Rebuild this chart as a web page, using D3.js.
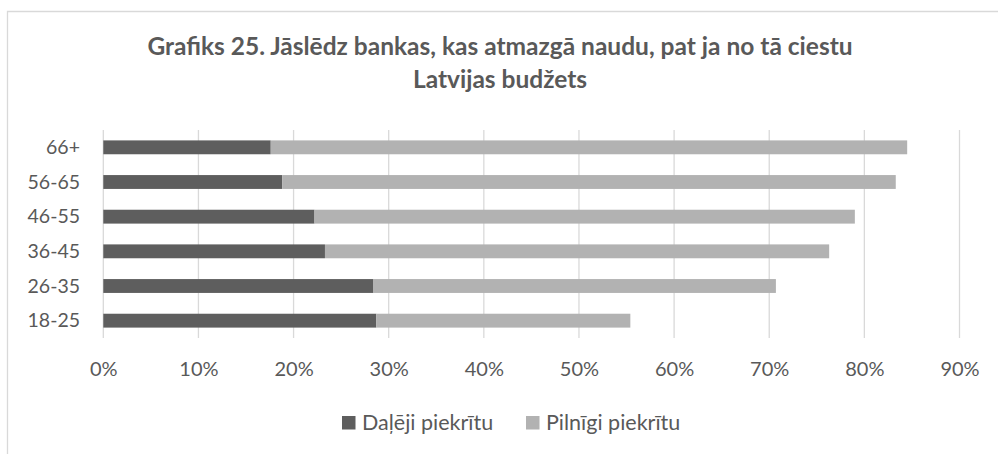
<!DOCTYPE html>
<html>
<head>
<meta charset="utf-8">
<script src="https://cdn.jsdelivr.net/npm/d3@7"></script>
<style>
  body { margin: 0; background: #fff; }
  text { font-family: Lato, "Open Sans", sans-serif; fill: #595959; }
</style>
</head>
<body>
<div id="chartContainer"></div>
<script>
var categories = ["66+", "56-65", "46-55", "36-45", "26-35", "18-25"];
var daleji = [17.6, 18.8, 22.2, 23.3, 28.4, 28.7];
var pilnigi = [66.9, 64.5, 56.8, 53.0, 42.3, 26.7];
var seriesNames = ["Daļēji piekrītu", "Pilnīgi piekrītu"];
var tickValues = [0, 10, 20, 30, 40, 50, 60, 70, 80, 90];
var titleLines = ["Grafiks 25. Jāslēdz bankas, kas atmazgā naudu, pat ja no tā ciestu", "Latvijas budžets"];

var colors = ["#5e5e5e", "#b2b2b2"];

var data = categories.map(function(c, i) {
  return { cat: c, daleji: daleji[i], pilnigi: pilnigi[i] };
});

var svg = d3.select("#chartContainer")
  .append("svg")
  .attr("width", 998)
  .attr("height", 454);

// chart frame (only top and left visible)
svg.append("path")
  .attr("d", "M7.5,454 L7.5,11.5 L998,11.5")
  .attr("fill", "none")
  .attr("stroke", "#d9d9d9")
  .attr("stroke-width", 1.3);

svg.selectAll(".title")
  .data(titleLines)
  .enter()
  .append("text")
  .attr("class", "title")
  .attr("x", 500)
  .attr("y", function(d, i) { return 55 + i * 33; })
  .attr("text-anchor", "middle")
  .attr("font-size", "24.5px")
  .attr("font-weight", "bold")
  .text(function(d) { return d; });

var x = d3.scaleLinear()
  .domain([0, 90])
  .range([103.3, 959.5]);

var y = d3.scaleBand()
  .domain(categories)
  .range([130, 338])
  .paddingInner(0.6)
  .paddingOuter(0.3);

// gridlines
svg.append("g")
  .selectAll("line")
  .data(tickValues)
  .enter()
  .append("line")
  .attr("x1", function(d) { return x(d); })
  .attr("x2", function(d) { return x(d); })
  .attr("y1", 130)
  .attr("y2", 338)
  .attr("stroke", "#d9d9d9")
  .attr("stroke-width", 1.3);

// x axis labels
var xAxis = svg.append("g")
  .attr("transform", "translate(0,338)")
  .call(d3.axisBottom(x).tickValues(tickValues).tickSize(0).tickPadding(0)
    .tickFormat(function(d) { return d + "%"; }));
xAxis.select(".domain").remove();
xAxis.selectAll("text")
  .attr("y", 38)
  .attr("dy", null)
  .attr("font-size", "20px")
  .attr("font-family", "Lato, sans-serif")
  .attr("fill", "#595959");

// y axis labels
var yAxis = svg.append("g")
  .attr("transform", "translate(80,0)")
  .call(d3.axisLeft(y).tickSize(0).tickPadding(0));
yAxis.select(".domain").remove();
yAxis.selectAll("text")
  .attr("dy", "0.35em")
  .attr("font-size", "19.5px")
  .attr("font-family", "Lato, sans-serif")
  .attr("fill", "#595959");

// bars
svg.selectAll(".bar1")
  .data(data)
  .enter()
  .append("rect")
  .attr("class", "bar1")
  .attr("x", x(0))
  .attr("y", function(d) { return y(d.cat); })
  .attr("width", function(d) { return x(d.daleji) - x(0); })
  .attr("height", y.bandwidth())
  .attr("fill", colors[0]);

svg.selectAll(".bar2")
  .data(data)
  .enter()
  .append("rect")
  .attr("class", "bar2")
  .attr("x", function(d) { return x(d.daleji); })
  .attr("y", function(d) { return y(d.cat); })
  .attr("width", function(d) { return x(d.daleji + d.pilnigi) - x(d.daleji); })
  .attr("height", y.bandwidth())
  .attr("fill", colors[1]);

// legend
var legendX = [342, 526];
var legend = svg.selectAll(".legend")
  .data(seriesNames)
  .enter()
  .append("g")
  .attr("class", "legend")
  .attr("transform", function(d, i) { return "translate(" + legendX[i] + ",416)"; });

legend.append("rect")
  .attr("width", 13.5)
  .attr("height", 13.5)
  .attr("fill", function(d, i) { return colors[i]; });

legend.append("text")
  .attr("x", 20)
  .attr("y", 14)
  .attr("font-size", "21.5px")
  .text(function(d) { return d; });
</script>
</body>
</html>
